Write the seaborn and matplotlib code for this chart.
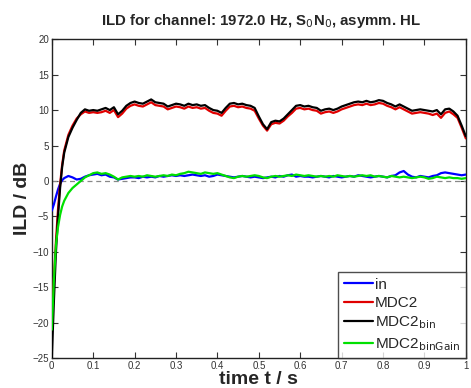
import pandas as pd
import matplotlib
matplotlib.use("Agg")
import matplotlib.pyplot as plt
import seaborn as sns

# time axis (s)
t = [0.0, 0.005, 0.01, 0.015, 0.02, 0.025, 0.03, 0.04, 0.05, 0.06, 0.07, 0.08, 0.09,
     0.10, 0.11, 0.12, 0.13, 0.14, 0.15, 0.16, 0.17, 0.18, 0.19,
     0.20, 0.21, 0.22, 0.23, 0.24, 0.25, 0.26, 0.27, 0.28, 0.29,
     0.30, 0.31, 0.32, 0.33, 0.34, 0.35, 0.36, 0.37, 0.38, 0.39,
     0.40, 0.41, 0.42, 0.43, 0.44, 0.45, 0.46, 0.47, 0.48, 0.49,
     0.50, 0.51, 0.52, 0.53, 0.54, 0.55, 0.56, 0.57, 0.58, 0.59,
     0.60, 0.61, 0.62, 0.63, 0.64, 0.65, 0.66, 0.67, 0.68, 0.69,
     0.70, 0.71, 0.72, 0.73, 0.74, 0.75, 0.76, 0.77, 0.78, 0.79,
     0.80, 0.81, 0.82, 0.83, 0.84, 0.85, 0.86, 0.87, 0.88, 0.89,
     0.90, 0.91, 0.92, 0.93, 0.94, 0.95, 0.96, 0.97, 0.98, 0.99, 1.00]

ild_in = [-4.2, -3.3, -2.2, -1.2, -0.4, 0.1, 0.4, 0.7, 0.5, 0.2, 0.3, 0.6, 0.8,
          0.9, 1.0, 0.8, 0.9, 0.6, 0.5, 0.2, 0.3, 0.4, 0.5,
          0.5, 0.4, 0.6, 0.5, 0.6, 0.5, 0.7, 0.6, 0.7, 0.8,
          0.7, 0.8, 0.7, 0.8, 0.9, 0.8, 0.7, 0.8, 0.6, 0.7,
          0.9, 0.8, 0.7, 0.6, 0.5, 0.6, 0.7, 0.6, 0.5, 0.6,
          0.5, 0.4, 0.5, 0.6, 0.5, 0.7, 0.6, 0.8, 0.9, 0.6,
          0.7, 0.6, 0.6, 0.5, 0.6, 0.7, 0.6, 0.5, 0.7, 0.6,
          0.5, 0.6, 0.7, 0.6, 0.8, 0.7, 0.6, 0.5, 0.6, 0.7,
          0.6, 0.5, 0.7, 0.8, 1.2, 1.4, 0.9, 0.6, 0.5, 0.7,
          0.6, 0.5, 0.7, 0.8, 1.1, 1.2, 1.1, 1.0, 0.9, 0.8, 0.9]

ild_mdc2 = [-20.0, -14.0, -8.5, -4.0, -0.5, 2.3, 4.3, 6.5, 7.8, 8.8, 9.4, 9.8, 9.6,
            9.7, 9.6, 9.7, 9.9, 9.6, 10.0, 9.0, 9.5, 10.2, 10.6,
            10.8, 10.6, 10.5, 10.8, 11.1, 10.7, 10.6, 10.5, 10.1, 10.3,
            10.5, 10.4, 10.2, 10.5, 10.3, 10.4, 10.2, 10.3, 9.9, 9.6,
            9.5, 9.2, 9.9, 10.5, 10.6, 10.4, 10.5, 10.3, 10.2, 9.9,
            8.8, 7.8, 7.1, 8.0, 8.2, 8.1, 8.5, 9.1, 9.6, 10.2,
            10.3, 10.1, 10.2, 10.0, 9.9, 9.5, 9.7, 9.8, 9.6, 9.8,
            10.1, 10.3, 10.5, 10.7, 10.8, 10.7, 10.9, 10.7, 10.8, 11.0,
            10.9, 10.6, 10.4, 10.1, 10.4, 10.1, 9.8, 9.5, 9.6, 9.7,
            9.6, 9.5, 9.3, 9.5, 8.9, 9.6, 9.8, 9.4, 8.9, 7.5, 6.0]

ild_mdc2_bin = [-25.0, -17.0, -10.0, -5.0, -1.0, 2.0, 4.0, 6.2, 7.5, 8.6, 9.6, 10.1, 9.9,
                10.0, 9.9, 10.1, 10.3, 10.0, 10.4, 9.4, 9.9, 10.6, 11.0,
                11.2, 11.0, 10.9, 11.2, 11.5, 11.1, 11.0, 10.9, 10.5, 10.7,
                10.9, 10.8, 10.6, 10.9, 10.7, 10.8, 10.6, 10.7, 10.3, 10.0,
                9.9, 9.6, 10.3, 10.9, 11.0, 10.8, 10.9, 10.7, 10.6, 10.3,
                9.1, 8.0, 7.3, 8.3, 8.5, 8.4, 8.8, 9.4, 10.0, 10.6,
                10.7, 10.5, 10.6, 10.4, 10.3, 9.9, 10.1, 10.2, 10.0, 10.2,
                10.5, 10.7, 10.9, 11.1, 11.2, 11.1, 11.3, 11.1, 11.2, 11.4,
                11.3, 11.0, 10.8, 10.5, 10.8, 10.5, 10.2, 9.9, 10.0, 10.1,
                10.0, 9.9, 9.8, 10.0, 9.4, 10.1, 10.2, 9.8, 9.2, 7.8, 6.3]

ild_mdc2_bingain = [-21.0, -14.0, -9.0, -6.5, -4.8, -3.6, -2.8, -1.7, -1.0, -0.5, 0.0, 0.5, 0.8,
                    1.1, 1.2, 1.0, 1.1, 0.9, 0.6, 0.2, 0.5, 0.6, 0.7,
                    0.6, 0.7, 0.6, 0.8, 0.7, 0.6, 0.7, 0.8, 0.7, 0.9,
                    0.8, 1.0, 1.1, 1.3, 1.2, 1.1, 1.0, 1.2, 1.1, 1.0,
                    1.1, 0.9, 0.7, 0.5, 0.4, 0.6, 0.7, 0.6, 0.7, 0.8,
                    0.7, 0.5, 0.4, 0.6, 0.7, 0.6, 0.7, 0.8, 0.7, 0.9,
                    0.8, 0.7, 0.8, 0.7, 0.6, 0.7, 0.6, 0.7, 0.6, 0.8,
                    0.7, 0.6, 0.7, 0.6, 0.7, 0.8, 0.7, 0.8, 0.6, 0.7,
                    0.6, 0.5, 0.7, 0.6, 0.5, 0.6, 0.5, 0.4, 0.5, 0.6,
                    0.5, 0.3, 0.4, 0.6, 0.5, 0.4, 0.5, 0.4, 0.4, 0.3, 0.4]

labels = ["in", "MDC2", r"MDC2$_{\mathrm{bin}}$", r"MDC2$_{\mathrm{binGain}}$"]
series = [ild_in, ild_mdc2, ild_mdc2_bin, ild_mdc2_bingain]
colors = ["#0000ff", "#e00000", "#000000", "#00e000"]

x_ticks = [0, 0.1, 0.2, 0.3, 0.4, 0.5, 0.6, 0.7, 0.8, 0.9, 1]
x_ticklabels = ["0", "0.1", "0.2", "0.3", "0.4", "0.5", "0.6", "0.7", "0.8", "0.9", "1"]
y_ticks = [-25, -20, -15, -10, -5, 0, 5, 10, 15, 20]

sns.set_style("ticks")
plt.rcParams["font.family"] = ["Liberation Sans", "DejaVu Sans"]

fig = plt.figure(figsize=(4.71, 3.88), dpi=100)
ax = fig.add_axes([0.110, 0.077, 0.879, 0.822])

# zero reference line
ax.axhline(0, color="#888888", linestyle="--", linewidth=0.9, dashes=(4, 3), zorder=1)

for vals, lab, col in zip(series, labels, colors):
    df = pd.DataFrame({"t": t, "ild": vals})
    sns.lineplot(data=df, x="t", y="ild", color=col, linewidth=1.6,
                 label=lab, ax=ax, sort=False, estimator=None, zorder=3)

ax.set_xlim(0, 1)
ax.set_ylim(-25, 20)
ax.set_xticks(x_ticks)
ax.set_xticklabels(x_ticklabels)
ax.set_yticks(y_ticks)
ax.tick_params(direction="in", top=True, right=True, labelsize=7, length=4,
               width=0.8, colors="#333333", pad=2)
for sp in ax.spines.values():
    sp.set_linewidth(1.0)
    sp.set_color("#222222")

ax.set_xlabel("time t / s", fontsize=14, fontweight="bold", labelpad=0)
ax.set_ylabel("ILD / dB", fontsize=14, fontweight="bold", labelpad=1)
fig.suptitle(r"ILD for channel: 1972.0 Hz, S$_0$N$_0$, asymm. HL",
             fontsize=10.8, fontweight="bold", x=0.554, y=0.97)

leg = ax.legend(loc="lower right", fontsize=11, handlelength=1.9, handletextpad=0.15,
                borderaxespad=0, labelspacing=0.3, frameon=True, fancybox=False,
                borderpad=0.35)
leg.get_frame().set_edgecolor("#222222")
leg.get_frame().set_linewidth(1.0)

fig.savefig("out.png", dpi=100)
print("saved out.png")
